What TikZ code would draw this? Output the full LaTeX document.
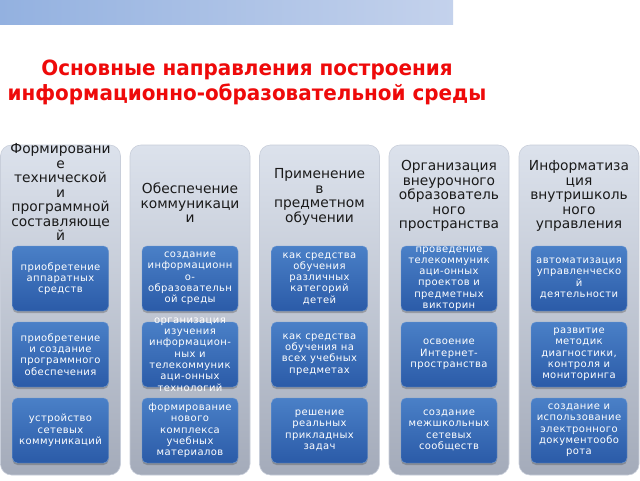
\documentclass[tikz,border=0pt]{standalone}
\usepackage{fontspec}
\setmainfont{DejaVu Sans}
\newfontfamily\titlefont[FakeStretch=0.95]{DejaVu Sans}
\newfontfamily\boxfont[LetterSpace=4]{DejaVu Sans}
\usetikzlibrary{shadows}
\definecolor{barL}{HTML}{93B1E0}
\definecolor{barR}{HTML}{C4D2EC}
\definecolor{titlered}{HTML}{EE0A0A}
\definecolor{colTop}{HTML}{DCE2EC}
\definecolor{colBot}{HTML}{A4ABBA}
\definecolor{colEdge}{HTML}{C8CEDA}
\definecolor{boxTop}{HTML}{4A80C7}
\definecolor{boxBot}{HTML}{2B5BA8}
\definecolor{headtext}{HTML}{1A1A1A}
\tikzset{
  titlestyle/.style={align=center, inner sep=0pt, text=titlered,
    font=\titlefont\bfseries\fontsize{21}{25}\selectfont},
  colbox/.style={minimum width=120pt, minimum height=330pt, inner sep=0pt,
    rounded corners=11pt, top color=colTop, bottom color=colBot, draw=colEdge, line width=0.6pt},
  headstyle/.style={align=center, inner sep=0pt, text=headtext,
    font=\fontsize{13.8}{14.5}\selectfont},
  bluebox/.style={minimum width=96pt, minimum height=65pt, inner sep=0pt,
    rounded corners=5pt, top color=boxTop, bottom color=boxBot, draw=boxTop!80!white, line width=0.4pt,
    drop shadow={shadow xshift=0pt, shadow yshift=-2pt, opacity=0.35, fill=black!70}},
  boxtext/.style={align=center, inner sep=0pt, text=white,
    font=\boxfont\fontsize{10}{11.3}\selectfont}
}
\begin{document}
\begin{tikzpicture}[x=1pt,y=-1pt]
\useasboundingbox (0,0) rectangle (640,480);
\fill[white] (0,0) rectangle (640,480);
\shade[left color=barL, right color=barR] (0,0) rectangle (453,24);
\node[titlestyle] (title) at (247,82) {Основные направления построения\\информационно-образовательной среды};
% columns
\node[colbox] (c1) at (60.5,310) {};
\node[colbox] (c2) at (190,310) {};
\node[colbox] (c3) at (319.5,310) {};
\node[colbox] (c4) at (449,310) {};
\node[colbox] (c5) at (579,310) {};
% headers
\node[headstyle] (h1) at (60.5,192) {Формировани\\е\\технической\\и\\программной\\составляюще\\й};
\node[headstyle] (h2) at (190,203) {Обеспечение\\коммуникаци\\и};
\node[headstyle] (h3) at (319.5,197) {Применение\\в\\предметном\\обучении};
\node[headstyle] (h4) at (449,196) {Организация\\внеурочного\\образователь\\ного\\пространства};
\node[headstyle] (h5) at (579,196) {Информатиза\\ция\\внутришколь\\ного\\управления};
% blue boxes
\foreach \x [count=\i] in {60.5,190,319.5,449,579}{
  \foreach \y [count=\j] in {278.5,354.5,430.5}{
    \node[bluebox] (b\i\j) at (\x,\y) {};
  }
}
\node[boxtext] (t11) at (b11) {приобретение\\аппаратных\\средств};
\node[boxtext] (t12) at (b12) {приобретение\\и создание\\программного\\обеспечения};
\node[boxtext] (t13) at (b13) {устройство\\сетевых\\коммуникаций};
\node[boxtext] (t21) at (b21) {создание\\информационн\\о-\\образовательн\\ой среды};
\node[boxtext] (t22) at (b22) {организация\\изучения\\информацион-\\ных и\\телекоммуник\\аци-онных\\технологий};
\node[boxtext] (t23) at (b23) {формирование\\нового\\комплекса\\учебных\\материалов};
\node[boxtext] (t31) at (b31) {как средства\\обучения\\различных\\категорий\\детей};
\node[boxtext] (t32) at (b32) {как средства\\обучения на\\всех учебных\\предметах};
\node[boxtext] (t33) at (b33) {решение\\реальных\\прикладных\\задач};
\node[boxtext] (t41) at (b41) {проведение\\телекоммуник\\аци-онных\\проектов и\\предметных\\викторин};
\node[boxtext] (t42) at (b42) {освоение\\Интернет-\\пространства};
\node[boxtext] (t43) at (b43) {создание\\межшкольных\\сетевых\\сообществ};
\node[boxtext] (t51) at (b51) {автоматизация\\управленческо\\й\\деятельности};
\node[boxtext] (t52) at (b52) {развитие\\методик\\диагностики,\\контроля и\\мониторинга};
\node[boxtext] (t53) at (b53) {создание и\\использование\\электронного\\документообо\\рота};
\end{tikzpicture}
\end{document}
